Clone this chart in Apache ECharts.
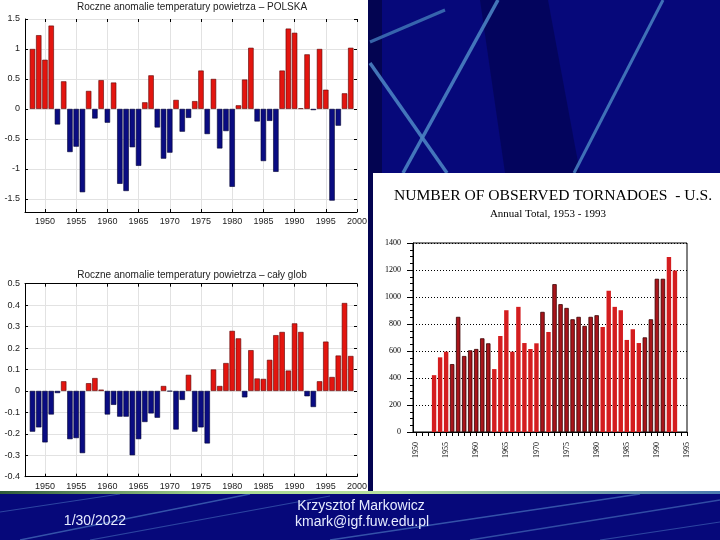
<!DOCTYPE html>
<html>
<head>
<meta charset="utf-8">
<script src="https://cdn.jsdelivr.net/npm/echarts@6/dist/echarts.min.js"></script>
<style>html,body{margin:0;padding:0;background:#06087a;}#c{width:720px;height:540px;}</style>
</head>
<body>
<div id="c"></div>
<script>
// ---------- DATA ----------
const years = [1948,1949,1950,1951,1952,1953,1954,1955,1956,1957,1958,1959,1960,1961,1962,1963,1964,1965,1966,1967,1968,1969,1970,1971,1972,1973,1974,1975,1976,1977,1978,1979,1980,1981,1982,1983,1984,1985,1986,1987,1988,1989,1990,1991,1992,1993,1994,1995,1996,1997,1998,1999];
const polandAnom = [1.00,1.23,0.82,1.39,-0.26,0.46,-0.72,-0.63,-1.39,0.30,-0.16,0.48,-0.23,0.44,-1.25,-1.37,-0.64,-0.95,0.11,0.56,-0.31,-0.83,-0.73,0.15,-0.38,-0.15,0.13,0.64,-0.42,0.50,-0.66,-0.37,-1.30,0.06,0.49,1.02,-0.21,-0.87,-0.20,-1.05,0.64,1.34,1.27,0.01,0.91,-0.02,1.00,0.32,-1.53,-0.28,0.26,1.02];
const globalAnom = [-0.19,-0.17,-0.24,-0.11,-0.01,0.045,-0.225,-0.22,-0.29,0.036,0.06,0.006,-0.11,-0.065,-0.12,-0.12,-0.30,-0.225,-0.145,-0.105,-0.125,0.023,-0.002,-0.18,-0.042,0.075,-0.19,-0.17,-0.245,0.10,0.023,0.13,0.28,0.245,-0.03,0.19,0.058,0.056,0.145,0.26,0.275,0.095,0.315,0.275,-0.025,-0.075,0.045,0.23,0.065,0.165,0.41,0.163];
const tornadoYears = [1953,1954,1955,1956,1957,1958,1959,1960,1961,1962,1963,1964,1965,1966,1967,1968,1969,1970,1971,1972,1973,1974,1975,1976,1977,1978,1979,1980,1981,1982,1983,1984,1985,1986,1987,1988,1989,1990,1991,1992,1993];
const tornadoCounts = [421,553,595,503,853,563,605,615,694,657,466,711,902,595,927,659,615,657,890,741,1095,947,919,835,853,786,853,865,778,1046,927,902,682,761,659,701,835,1135,1135,1296,1197];

const tempXTicks = [1950,1955,1960,1965,1970,1975,1980,1985,1990,1995,2000];
const polandYTicks = [-1.5,-1,-0.5,0,0.5,1,1.5];
const tornadoXTicks = [1950,1955,1960,1965,1970,1975,1980,1985,1990,1995];

const titlePL = 'Roczne anomalie temperatury powietrza – POLSKA';
const titleGL = 'Roczne anomalie temperatury powietrza – cały glob';
const titleTor = 'NUMBER OF OBSERVED TORNADOES  - U.S.';
const subTor = 'Annual Total, 1953 - 1993';

// ---------- STYLE ----------
const RED = '#e3150f', BLUE = '#0a0c82';
const RED_EDGE = '#5a0000', BLUE_EDGE = '#000030';
const TOR_BRIGHT = '#d41d1f', TOR_DARK = '#a8151b';
const darkYears = [1956,1957,1958,1959,1960,1961,1962,1971,1973,1974,1975,1976,1977,1978,1979,1980,1988,1989,1990,1991];
const yearMarks = [];
for (let y = 1950; y <= 1995; y++) yearMarks.push(y);

const fmt1 = v => { const r = Math.round(v * 10) / 10; return (r === 0 ? 0 : r).toString(); };
const fmtPlain = v => String(Math.round(v));

function tempX(grid, pos, showLabels) {
  return {
    gridIndex: grid, type: 'value', min: 1946.8, max: 2000, position: pos,
    axisLine: { show: true, onZero: false, lineStyle: { color: '#000', width: 1 } },
    axisTick: { show: true, inside: true, length: 3, customValues: tempXTicks, lineStyle: { color: '#000' } },
    axisLabel: { show: showLabels, customValues: tempXTicks, formatter: fmtPlain, fontSize: 9, color: '#222', margin: 5, fontFamily: 'Liberation Sans' },
    splitLine: { show: showLabels, lineStyle: { color: '#e2e2e2' } }
  };
}

const chart = echarts.init(document.getElementById('c'), null, { renderer: 'canvas' });

function tempSeries(xi, yi, vals) {
  return {
    type: 'bar', xAxisIndex: xi, yAxisIndex: yi, barWidth: 5.4, silent: true,
    data: years.map((y, i) => ({
      value: [y, vals[i]],
      itemStyle: vals[i] >= 0
        ? { color: RED, borderColor: RED_EDGE, borderWidth: 0.6 }
        : { color: BLUE, borderColor: BLUE_EDGE, borderWidth: 0.6 }
    }))
  };
}

const option = {
  animation: false,
  backgroundColor: '#06087a',
  grid: [
    { left: 25, top: 19, width: 332, height: 193 },
    { left: 25, top: 283.7, width: 332, height: 193 },
    { left: 413, top: 243, width: 274, height: 189, show: true, borderColor: '#000', borderWidth: 1, backgroundColor: 'transparent' }
  ],
  xAxis: [
    tempX(0, 'bottom', true),
    tempX(1, 'bottom', true),
    {
      gridIndex: 2, type: 'value', min: 1949.5, max: 1995, position: 'bottom',
      axisLine: { show: true, onZero: false, lineStyle: { color: '#000' } },
      axisTick: { show: true, inside: false, length: 4, customValues: yearMarks, lineStyle: { color: '#000' } },
      axisLabel: { customValues: tornadoXTicks, formatter: fmtPlain, rotate: 90, fontSize: 8, color: '#000', margin: 10, fontFamily: 'Liberation Serif' },
      splitLine: { show: false }
    },
    Object.assign(tempX(0, 'top', false), { axisLine: { show: false, onZero: false } }),
    Object.assign(tempX(1, 'top', false), { axisLine: { show: true, onZero: false, lineStyle: { color: '#000' } } })
  ],
  yAxis: [
    {
      gridIndex: 0, type: 'value', min: -1.72, max: 1.5,
      axisLine: { show: true, lineStyle: { color: '#000' } },
      axisTick: { show: true, inside: true, length: 3, customValues: polandYTicks, lineStyle: { color: '#000' } },
      axisLabel: { customValues: polandYTicks, formatter: fmt1, fontSize: 9, color: '#222', margin: 5, fontFamily: 'Liberation Sans' },
      splitLine: { show: true, lineStyle: { color: '#e2e2e2' } }
    },
    {
      gridIndex: 1, type: 'value', min: -0.4, max: 0.5, interval: 0.1,
      axisLine: { show: true, lineStyle: { color: '#000' } },
      axisTick: { show: true, inside: true, length: 3, lineStyle: { color: '#000' } },
      axisLabel: { formatter: fmt1, fontSize: 9, color: '#222', margin: 5, fontFamily: 'Liberation Sans' },
      splitLine: { show: true, lineStyle: { color: '#e2e2e2' } }
    },
    {
      gridIndex: 2, type: 'value', min: 0, max: 1400, interval: 200,
      axisLine: { show: true, lineStyle: { color: '#000' } },
      axisTick: { show: true, inside: false, length: 6, lineStyle: { color: '#000' } },
      minorTick: { show: true, splitNumber: 4, length: 3, lineStyle: { color: '#000' } },
      axisLabel: { formatter: fmtPlain, fontSize: 8, color: '#000', margin: 12, fontFamily: 'Liberation Serif' },
      splitLine: { show: true, lineStyle: { color: '#000', type: [1, 2], width: 1 } }
    },
    {
      gridIndex: 0, type: 'value', min: -1.72, max: 1.5, position: 'right',
      axisLine: { show: false },
      axisTick: { show: true, inside: true, length: 3, customValues: polandYTicks, lineStyle: { color: '#000' } },
      axisLabel: { show: false }, splitLine: { show: false }
    },
    {
      gridIndex: 1, type: 'value', min: -0.4, max: 0.5, interval: 0.1, position: 'right',
      axisLine: { show: false },
      axisTick: { show: true, inside: true, length: 3, lineStyle: { color: '#000' } },
      axisLabel: { show: false }, splitLine: { show: false }
    }
  ],
  series: [
    tempSeries(0, 0, polandAnom),
    tempSeries(1, 1, globalAnom),
    {
      type: 'bar', xAxisIndex: 2, yAxisIndex: 2, barWidth: 4.4, silent: true,
      data: tornadoYears.map((y, i) => {
        const dark = darkYears.indexOf(y) >= 0;
        return {
          value: [y, tornadoCounts[i]],
          itemStyle: dark ? { color: TOR_DARK, borderColor: '#3a0000', borderWidth: 0.8 } : { color: TOR_BRIGHT, borderWidth: 0 }
        };
      })
    }
  ],
  graphic: [
    // slide backgrounds
    { type: 'rect', z: -100, shape: { x: 0, y: 0, width: 720, height: 540 }, style: { fill: '#06087a' } },
    { type: 'polygon', z: -99, shape: { points: [[480, 0], [548, 0], [580, 173], [505, 173]] }, style: { fill: 'rgba(0,0,50,0.4)' } },
    { type: 'rect', z: -99, shape: { x: 368, y: 0, width: 14, height: 492 }, style: { fill: 'rgba(0,0,40,0.5)' } },
    // top-right streaks
    { type: 'line', z: -98, shape: { x1: 370, y1: 42, x2: 445, y2: 10 }, style: { stroke: '#3f74b6', lineWidth: 3, opacity: 0.85 } },
    { type: 'line', z: -98, shape: { x1: 370, y1: 63, x2: 447, y2: 173 }, style: { stroke: '#4a82c2', lineWidth: 3.5, opacity: 0.9 } },
    { type: 'line', z: -98, shape: { x1: 498, y1: 0, x2: 403, y2: 173 }, style: { stroke: '#4a82c2', lineWidth: 3.5, opacity: 0.9 } },
    { type: 'line', z: -98, shape: { x1: 663, y1: 0, x2: 574, y2: 173 }, style: { stroke: '#4a82c2', lineWidth: 3, opacity: 0.85 } },
    // footer streaks
    { type: 'line', z: -98, shape: { x1: 20, y1: 540, x2: 250, y2: 494 }, style: { stroke: '#5b8fd0', lineWidth: 1.5, opacity: 0.55 } },
    { type: 'line', z: -98, shape: { x1: 90, y1: 540, x2: 330, y2: 496 }, style: { stroke: '#5b8fd0', lineWidth: 1.2, opacity: 0.45 } },
    { type: 'line', z: -98, shape: { x1: 0, y1: 512, x2: 120, y2: 494 }, style: { stroke: '#5b8fd0', lineWidth: 1.2, opacity: 0.45 } },
    { type: 'line', z: -98, shape: { x1: 330, y1: 540, x2: 640, y2: 494 }, style: { stroke: '#5b8fd0', lineWidth: 1.5, opacity: 0.55 } },
    { type: 'line', z: -98, shape: { x1: 470, y1: 540, x2: 720, y2: 500 }, style: { stroke: '#5b8fd0', lineWidth: 1.5, opacity: 0.5 } },
    { type: 'line', z: -98, shape: { x1: 600, y1: 540, x2: 720, y2: 522 }, style: { stroke: '#5b8fd0', lineWidth: 1.2, opacity: 0.45 } },
    // white panels
    { type: 'rect', z: -90, shape: { x: 0, y: 0, width: 368, height: 492 }, style: { fill: '#ffffff' } },
    { type: 'rect', z: -90, shape: { x: 373, y: 173, width: 347, height: 319 }, style: { fill: '#ffffff' } },
    // green separator
    { type: 'rect', z: -89, shape: { x: 0, y: 491, width: 720, height: 3 },
      style: { fill: new echarts.graphic.LinearGradient(0, 0, 1, 0, [
        { offset: 0, color: '#2f5a3a' }, { offset: 0.3, color: '#a8d890' }, { offset: 0.55, color: '#b8e0a0' }, { offset: 1, color: '#4a7ab0' }]) } },
    // titles
    { type: 'text', z: 10, style: { text: titlePL, x: 192, y: 7, textAlign: 'center', textVerticalAlign: 'middle', font: '10px "Liberation Sans", Arial, sans-serif', fill: '#222' } },
    { type: 'text', z: 10, style: { text: titleGL, x: 192, y: 275, textAlign: 'center', textVerticalAlign: 'middle', font: '10px "Liberation Sans", Arial, sans-serif', fill: '#222' } },
    { type: 'text', z: 10, style: { text: titleTor, x: 553, y: 196, textAlign: 'center', textVerticalAlign: 'middle', font: '15.6px "Liberation Serif", "Times New Roman", serif', fill: '#000' } },
    { type: 'text', z: 10, style: { text: subTor, x: 548, y: 214, textAlign: 'center', textVerticalAlign: 'middle', font: '11px "Liberation Serif", "Times New Roman", serif', fill: '#000' } },
    // footer
    { type: 'text', z: 10, style: { text: '1/30/2022', x: 95, y: 521, textAlign: 'center', textVerticalAlign: 'middle', font: '14px "Liberation Sans", Arial, sans-serif', fill: '#e6ecff' } },
    { type: 'text', z: 10, style: { text: 'Krzysztof Markowicz', x: 361, y: 506, textAlign: 'center', textVerticalAlign: 'middle', font: '14px "Liberation Sans", Arial, sans-serif', fill: '#e6ecff' } },
    { type: 'text', z: 10, style: { text: 'kmark@igf.fuw.edu.pl', x: 362, y: 522, textAlign: 'center', textVerticalAlign: 'middle', font: '14px "Liberation Sans", Arial, sans-serif', fill: '#e6ecff' } }
  ]
};
chart.setOption(option);
</script>
</body>
</html>
